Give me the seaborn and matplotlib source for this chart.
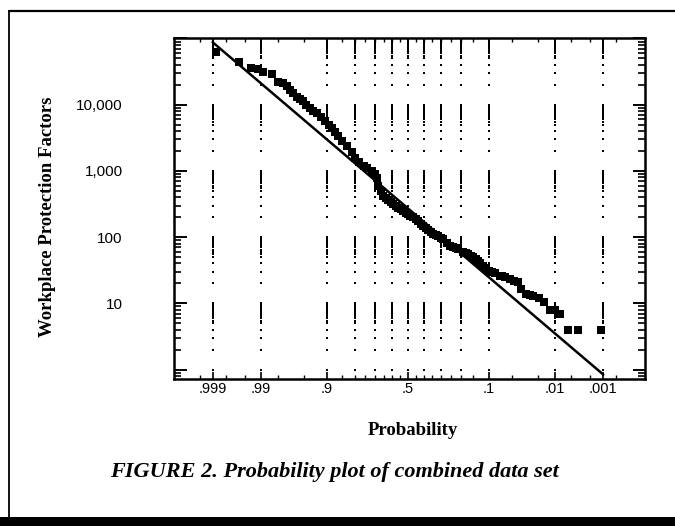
import numpy as np
import pandas as pd
import matplotlib
matplotlib.use("Agg")
import matplotlib.pyplot as plt
from matplotlib.lines import Line2D
from matplotlib.patches import Rectangle
from matplotlib.ticker import FixedLocator, FixedFormatter, LogLocator, NullFormatter
import seaborn as sns
from statistics import NormalDist

# ---------------- data ----------------
prob = [0.9988, 0.9963, 0.9936, 0.9913, 0.9890, 0.9842, 0.9798, 0.9756, 0.9720,
        0.9686, 0.9650, 0.9608, 0.9560, 0.9515, 0.9460, 0.9394, 0.9330, 0.9251,
        0.9150, 0.9049, 0.8950, 0.8849, 0.8750, 0.8643, 0.8500, 0.8340, 0.8130,
        0.7995, 0.7800, 0.7580, 0.7390, 0.7157, 0.7000, 0.6879, 0.6808, 0.6630,
        0.6517, 0.6360, 0.6210, 0.6060, 0.5910, 0.5760, 0.5600, 0.5440, 0.5279,
        0.5140, 0.5000, 0.4840, 0.4681, 0.4520, 0.4370, 0.4210, 0.4052, 0.3900,
        0.3740, 0.3590, 0.3446, 0.3300, 0.3160, 0.3020, 0.2877, 0.2700, 0.2546,
        0.2389, 0.2250, 0.2120, 0.1922, 0.1810, 0.1710, 0.1600, 0.1515, 0.1420,
        0.1340, 0.1260, 0.1190, 0.1080, 0.0985, 0.0910, 0.0840, 0.0735, 0.0680,
        0.0620, 0.0537, 0.0470, 0.0409, 0.0367, 0.0307, 0.0270, 0.0239, 0.0188,
        0.0154, 0.0125, 0.0102, 0.0082, 0.0057, 0.0035, 0.0011]
wpf = [63000, 44700, 35500, 34500, 31000, 29000, 22400, 21200, 19000,
       16800, 15000, 13300, 12200, 11200, 10000, 8900, 8100, 7500,
       6500, 5600, 5000, 4450, 3900, 3330, 2800, 2350, 1950,
       1580, 1350, 1180, 1100, 990, 900, 790, 590, 490,
       415, 390, 370, 340, 315, 295, 280, 265, 250,
       235, 222, 210, 200, 185, 174, 160, 148, 138,
       128, 118, 111, 107, 104, 98, 93, 82, 74,
       71, 69, 66, 59, 57, 55, 52, 50, 47,
       43.5, 40, 37, 34, 31, 30, 29, 26, 25.5,
       25, 23.5, 22, 21, 16.6, 13.9, 13.5, 13.1, 12,
       10.5, 7.8, 7.8, 6.9, 4, 4, 4]

# fitted lognormal line (end points)
fit_prob = [0.999, 0.001]
fit_wpf = [88000, 0.84]

x_tick_probs = [0.999, 0.99, 0.9, 0.5, 0.1, 0.01, 0.001]
x_tick_labels = [".999", ".99", ".9", ".5", ".1", ".01", ".001"]
x_minor_probs = [0.9995, 0.998, 0.995, 0.98, 0.95, 0.85, 0.8, 0.75, 0.7, 0.65,
                 0.6, 0.55, 0.45, 0.4, 0.35, 0.3, 0.25, 0.2, 0.15, 0.05, 0.02,
                 0.005, 0.002, 0.0005]
grid_probs = [0.999, 0.99, 0.9, 0.8, 0.7, 0.6, 0.5, 0.4, 0.3, 0.2, 0.1, 0.01, 0.001]
grid_mult = [1, 2, 3, 4, 5, 5.5, 6, 6.5, 7, 7.5, 8, 8.5, 9, 9.5]
grid_decades = [1, 10, 100, 1000, 10000]

y_ticks = [1, 10, 100, 1000, 10000, 100000]
y_tick_labels = ["", "10", "100", "1,000", "10,000", ""]

# ---------------- style ----------------
sns.set_theme(style="white")
plt.rcParams["font.family"] = ["Liberation Serif", "DejaVu Serif"]
TICKFONT = ["Liberation Sans Narrow", "Liberation Sans", "DejaVu Sans"]

ND = NormalDist()
_ppf = np.vectorize(ND.inv_cdf, otypes=[float])
_cdf = np.vectorize(ND.cdf, otypes=[float])


def fwd(p):
    p = np.clip(np.asarray(p, dtype=float), 1e-12, 1 - 1e-12)
    return _ppf(p)


def inv(z):
    return _cdf(np.asarray(z, dtype=float))


W, H = 675, 526
fig = plt.figure(figsize=(W / 100, H / 100), dpi=100)
fig.patch.set_facecolor("white")
L, R, T, B = 174, 645, 37.5, 379
ax = fig.add_axes([L / W, 1 - B / H, (R - L) / W, (B - T) / H])
ax.set_facecolor("white")
ax.set_xscale("function", functions=(fwd, inv))
ax.set_yscale("log")

# dotted vertical grid made of dots
gp, gm, gd = np.meshgrid(grid_probs, grid_mult, grid_decades, indexing="ij")
grid_df = pd.DataFrame({"p": gp.ravel(), "v": (gm * gd).ravel()})
sns.scatterplot(data=grid_df, x="p", y="v", marker="s", s=0.9, color="black",
                linewidth=0, ax=ax, zorder=1, legend=False)

# fitted line
sns.lineplot(x=fit_prob, y=fit_wpf, color="black", linewidth=1.8, ax=ax,
             sort=False, estimator=None, zorder=2, legend=False)

# data points
data_df = pd.DataFrame({"p": prob, "wpf": wpf})
sns.scatterplot(data=data_df, x="p", y="wpf", marker="s", s=28, color="black",
                linewidth=0, ax=ax, zorder=3, legend=False)

ax.set_xlim(float(inv(3.70)), float(inv(-3.75)))
ax.set_ylim(0.72, 10 ** 5.015)

# ticks
ax.xaxis.set_major_locator(FixedLocator(x_tick_probs))
ax.xaxis.set_major_formatter(FixedFormatter(x_tick_labels))
ax.xaxis.set_minor_locator(FixedLocator(x_minor_probs))
ax.xaxis.set_minor_formatter(NullFormatter())
ax.yaxis.set_major_locator(FixedLocator(y_ticks))
ax.yaxis.set_major_formatter(FixedFormatter(y_tick_labels))
ax.yaxis.set_minor_locator(LogLocator(base=10, subs=range(2, 10), numticks=50))
ax.yaxis.set_minor_formatter(NullFormatter())

ax.tick_params(axis="x", which="major", direction="in", top=True, bottom=True,
               length=5, width=1.2, pad=2, labelsize=10.5, color="black")
ax.tick_params(axis="x", which="minor", direction="in", top=True, bottom=True,
               length=3, width=1.0, color="black")
ax.tick_params(axis="y", which="major", direction="in", left=True, right=True,
               length=9, width=1.4, pad=37, labelsize=11, color="black")
ax.tick_params(axis="y", which="minor", direction="in", left=True, right=True,
               length=5, width=1.2, color="black")
for lab in ax.get_xticklabels() + ax.get_yticklabels():
    lab.set_fontfamily(TICKFONT)
    lab.set_color("black")

for sp in ax.spines.values():
    sp.set_visible(True)
    sp.set_color("black")
    sp.set_linewidth(1.8)
ax.grid(False)

ax.set_xlabel("Probability", fontsize=13.5, fontweight="bold", color="black")
ax.set_ylabel("Workplace Protection Factors", fontsize=13.5, fontweight="bold",
              color="black")
ax.xaxis.set_label_coords((413 - L) / (R - L), (B - 422) / (B - T))
ax.yaxis.set_label_coords((56 - L) / (R - L), (B - 217) / (B - T))

fig.text(334 / W, 1 - 472 / H, "FIGURE 2. Probability plot of combined data set",
         ha="center", va="center", fontsize=16, fontweight="bold",
         fontstyle="italic", color="black")

# outer frame of the figure panel
fig.add_artist(Line2D([9 / W, 9 / W], [1 - 517 / H, 1 - 11 / H],
                      transform=fig.transFigure, color="black", linewidth=1.3))
fig.add_artist(Line2D([9 / W, 1.0], [1 - 11 / H, 1 - 11 / H],
                      transform=fig.transFigure, color="black", linewidth=1.6))
fig.add_artist(Rectangle((0, 0), 1, 9 / H, transform=fig.transFigure,
                         facecolor="black", edgecolor="none"))

fig.savefig("out.png", dpi=100)
